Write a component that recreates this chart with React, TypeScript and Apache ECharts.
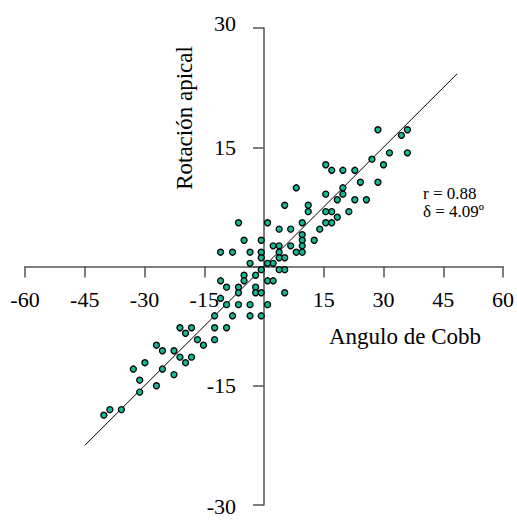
import React, { useEffect, useRef } from "react";
import * as echarts from "echarts";

// Angulo de Cobb (x) and Rotación apical (y)
const cobb = [
  28.6, 34.5, 36.0, 36.0, 31.5, 27.1, 30.0, 15.5, 17.0, 19.8,
  22.8, 24.2, 28.6, 19.8, 19.8, 15.5, 18.4, 22.8, 25.7, 8.1,
  5.2, 11.1, 11.1, 15.5, 17.0, 21.3, 18.4, 15.5, 17.0, 9.6,
  14.0, 3.8, 6.7, 9.6, 9.6, 12.6, 9.6, 9.6, 8.1, 6.7,
  2.3, 3.8, 3.8, 3.8, 5.2, 2.3, 3.8, 5.2, -6.4, 0.9,
  -5.0, -0.7, -10.9, -7.9, -3.5, -0.7, -0.7, -3.5, 0.9, -0.7,
  -2.1, -5.0, -10.9, -5.0, 0.9, 2.3, -9.4, -6.4, -2.1, -6.4,
  -2.1, -0.7, 5.2, -10.9, -9.4, -6.4, -3.5, 0.9, -12.4, -7.9,
  -3.5, -0.7, -21.1, -18.2, -19.7, -12.4, -9.4, -16.7, -12.4, -15.2,
  -27.0, -25.5, -22.6, -21.1, -18.2, -19.7, -29.9, -32.8, -25.5, -22.6,
  -31.2, -27.0, -31.2, -35.8, -38.7, -40.2,
];
const rotacion = [
  17.2, 16.5, 17.2, 14.3, 14.3, 13.5, 12.8, 12.8, 12.1, 12.1,
  12.1, 10.6, 10.6, 9.9, 9.1, 9.1, 8.4, 8.4, 8.4, 9.9,
  7.7, 7.7, 6.9, 6.9, 6.9, 6.9, 6.2, 5.5, 5.5, 5.5,
  4.7, 4.7, 4.7, 4.0, 3.3, 3.3, 2.6, 1.8, 1.8, 2.6,
  2.6, 2.6, 1.8, 1.1, 1.1, 0.4, -0.4, -0.4, 5.5, 5.5,
  3.3, 3.3, 1.8, 1.8, 1.8, 1.8, 1.1, 0.4, 0.4, -0.4,
  -1.1, -1.1, -1.8, -1.8, -1.8, -1.8, -2.6, -2.6, -2.6, -3.3,
  -3.3, -3.3, -3.3, -4.0, -4.8, -4.8, -4.8, -4.8, -6.2, -6.2,
  -6.2, -6.2, -7.7, -7.7, -8.4, -7.7, -7.7, -9.2, -9.2, -9.9,
  -9.9, -10.6, -10.6, -11.4, -11.4, -12.1, -12.1, -12.9, -12.9, -13.6,
  -14.3, -15.0, -15.8, -18.0, -18.0, -18.7,
];

// Regression line endpoints
const lineX = [-45, 48.5];
const lineY = [-22.5, 24.25];

const xTicks = [-60, -45, -30, -15, 0, 15, 30, 45, 60];
const yTicks = [-30, -15, 0, 15, 30];

const statR = "r = 0.88";
const statD = "δ = 4.09º";
const xName = "Angulo de Cobb";
const yName = "Rotación apical";

const FONT = "'Liberation Serif', 'Times New Roman', serif";

const GRID_W = 478;
const GRID_H = 477;

export default function App() {
  const ref = useRef<HTMLDivElement>(null);
  useEffect(() => {
    if (!ref.current) return;
    const chart = echarts.init(ref.current, null, { renderer: "svg" });
    const axisColor = "#555";
    const yMin = yTicks[0];
    const yMax = yTicks[yTicks.length - 1];
    chart.setOption({
      animation: false,
      backgroundColor: "#fff",
      grid: { left: 25, top: 28, width: GRID_W, height: GRID_H, outerBoundsMode: "none", containLabel: false },
      xAxis: {
        type: "value",
        position: "bottom",
        offset: -GRID_H / 2,
        min: xTicks[0],
        max: xTicks[xTicks.length - 1],
        interval: 15,
        axisLine: { show: true, onZero: false, lineStyle: { color: axisColor, width: 1.5 } },
        axisTick: { show: true, length: 11, lineStyle: { color: axisColor, width: 1.5 } },
        axisLabel: {
          margin: 22,
          fontFamily: FONT,
          fontSize: 22,
          color: "#000",
          showMinLabel: true,
          showMaxLabel: true,
          hideOverlap: false,
          formatter: (v: number) => (v === 0 ? "" : String(v)),
        },
        splitLine: { show: false },
      },
      yAxis: {
        type: "value",
        position: "left",
        offset: -GRID_W / 2,
        min: yMin,
        max: yMax,
        interval: 15,
        axisLine: { show: true, onZero: false, lineStyle: { color: axisColor, width: 1.5 } },
        axisTick: { show: true, length: 11, lineStyle: { color: axisColor, width: 1.5 } },
        axisLabel: {
          margin: 28,
          fontFamily: FONT,
          fontSize: 22,
          color: "#000",
          showMinLabel: true,
          showMaxLabel: true,
          hideOverlap: false,
          formatter: (v: number) => {
            if (v === 0) return "";
            if (v === yMax) return `{up|${v}}`;
            if (v === yMin) return `{down|${v}}`;
            return String(v);
          },
          rich: {
            up: { fontFamily: FONT, fontSize: 22, color: "#000", padding: [0, 0, 10, 0] },
            down: { fontFamily: FONT, fontSize: 22, color: "#000", padding: [3, 0, 0, 0] },
          },
        },
        splitLine: { show: false },
      },
      series: [
        {
          type: "line",
          data: lineX.map((x, i) => [x, lineY[i]]),
          symbol: "none",
          lineStyle: { color: "#000", width: 1 },
          silent: true,
          z: 1,
        },
        {
          type: "scatter",
          data: cobb.map((x, i) => [x, rotacion[i]]),
          symbol: "circle",
          symbolSize: 6,
          itemStyle: { color: "#14b892", borderColor: "#000", borderWidth: 1.3, opacity: 1 },
          z: 3,
        },
      ],
      graphic: [
        {
          type: "text",
          left: 329,
          top: 325,
          style: { text: xName, font: `23px ${FONT}`, fill: "#000" },
        },
        {
          type: "text",
          x: 184,
          y: 118,
          rotation: Math.PI / 2,
          style: {
            text: yName,
            font: `23px ${FONT}`,
            fill: "#000",
            align: "center",
            verticalAlign: "middle",
          },
        },
        {
          type: "text",
          x: 423,
          y: 193,
          style: { text: statR, font: `17px ${FONT}`, fill: "#000", verticalAlign: "middle" },
        },
        {
          type: "text",
          x: 423,
          y: 211,
          style: { text: statD, font: `17px ${FONT}`, fill: "#000", verticalAlign: "middle" },
        },
      ],
    });
    return () => chart.dispose();
  }, []);
  return (
    <div
      ref={ref}
      style={{ position: "fixed", left: 0, top: 0, width: 517, height: 520, background: "#fff" }}
    />
  );
}
